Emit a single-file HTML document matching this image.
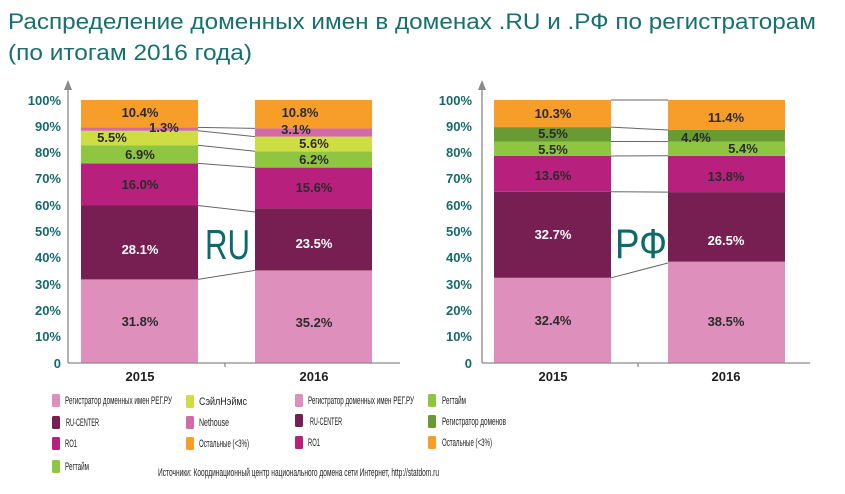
<!DOCTYPE html>
<html><head><meta charset="utf-8"><style>
html,body{margin:0;padding:0;background:#fff;width:845px;height:494px;overflow:hidden}
svg{display:block;font-family:"Liberation Sans","DejaVu Sans",sans-serif}
.ax{font-weight:bold;font-size:13px;fill:#16696b;text-anchor:end}
.v{font-weight:bold;font-size:13px;fill:#2b2b2b;text-anchor:middle}
.w{font-weight:bold;font-size:13px;fill:#fff;text-anchor:middle}
.yr{font-weight:bold;font-size:13px;fill:#1f1f1f;text-anchor:middle}
.lg{font-size:11px;fill:#222}
</style></head><body>
<svg width="845" height="494" viewBox="0 0 845 494">
<text x="8" y="29" font-size="22" fill="#17706f" textLength="808" lengthAdjust="spacingAndGlyphs">Распределение доменных имен в доменах .RU и .РФ по регистраторам</text>
<text x="8" y="60" font-size="22" fill="#17706f" textLength="244" lengthAdjust="spacingAndGlyphs">(по итогам 2016 года)</text>

<g class="ax">
<text x="61" y="368">0</text><text x="61" y="341">10%</text><text x="61" y="315">20%</text><text x="61" y="289">30%</text><text x="61" y="262">40%</text><text x="61" y="236">50%</text><text x="61" y="210">60%</text><text x="61" y="183">70%</text><text x="61" y="157">80%</text><text x="61" y="131">90%</text><text x="61" y="105">100%</text>
</g>
<rect x="81" y="279.4" width="117" height="83.6" fill="#de8fbb"/>
<rect x="81" y="205.5" width="117" height="73.9" fill="#771f53"/>
<rect x="81" y="163.4" width="117" height="42.1" fill="#b8207e"/>
<rect x="81" y="145.2" width="117" height="18.2" fill="#8fc641"/>
<rect x="81" y="130.8" width="117" height="14.4" fill="#cedd43"/>
<rect x="81" y="127.4" width="117" height="3.4" fill="#d36aa6"/>
<rect x="81" y="100" width="117" height="27.4" fill="#f79d2a"/>
<rect x="255" y="270.4" width="117" height="92.6" fill="#de8fbb"/>
<rect x="255" y="208.6" width="117" height="61.8" fill="#771f53"/>
<rect x="255" y="167.6" width="117" height="41" fill="#b8207e"/>
<rect x="255" y="151.3" width="117" height="16.3" fill="#8fc641"/>
<rect x="255" y="136.6" width="117" height="14.7" fill="#cedd43"/>
<rect x="255" y="128.4" width="117" height="8.2" fill="#d36aa6"/>
<rect x="255" y="100" width="117" height="28.4" fill="#f79d2a"/>
<g stroke="#666" stroke-width="1">
<line x1="198" y1="279.4" x2="255" y2="270.4"/><line x1="198" y1="205.5" x2="255" y2="212"/><line x1="198" y1="163.4" x2="255" y2="167.6"/><line x1="198" y1="145.2" x2="255" y2="151.3"/><line x1="198" y1="130.8" x2="255" y2="136.6"/><line x1="198" y1="127.4" x2="255" y2="128.4"/>
</g>
<g stroke="#8a8a8a" stroke-width="1.3" fill="none">
<line x1="68" y1="85" x2="68" y2="363"/><line x1="68" y1="363" x2="400" y2="363"/><line x1="225" y1="363" x2="225" y2="367"/>
</g>
<polygon points="68,80 64,90 72,90" fill="#8a8a8a"/>
<text x="140" y="117" class="v">10.4%</text><text x="164" y="132" class="v">1.3%</text><text x="112" y="142" class="v">5.5%</text><text x="140" y="159" class="v">6.9%</text><text x="140" y="189" class="v">16.0%</text><text x="140" y="254" class="w">28.1%</text><text x="140" y="326" class="v">31.8%</text>
<text x="300" y="117" class="v">10.8%</text><text x="296" y="134" class="v">3.1%</text><text x="314" y="148" class="v">5.6%</text><text x="314" y="164" class="v">6.2%</text><text x="314" y="192" class="v">15.6%</text><text x="314" y="248" class="w">23.5%</text><text x="314" y="327" class="v">35.2%</text>
<text x="205" y="259" font-size="42" fill="#0e6a6a" textLength="45" lengthAdjust="spacingAndGlyphs">RU</text>
<text x="140" y="381" class="yr">2015</text><text x="314" y="381" class="yr">2016</text>

<g class="ax">
<text x="472" y="368">0</text><text x="472" y="341">10%</text><text x="472" y="315">20%</text><text x="472" y="289">30%</text><text x="472" y="262">40%</text><text x="472" y="236">50%</text><text x="472" y="210">60%</text><text x="472" y="183">70%</text><text x="472" y="157">80%</text><text x="472" y="131">90%</text><text x="472" y="105">100%</text>
</g>
<rect x="494" y="277.8" width="117" height="85.2" fill="#de8fbb"/>
<rect x="494" y="191.8" width="117" height="86" fill="#771f53"/>
<rect x="494" y="156" width="117" height="35.8" fill="#b8207e"/>
<rect x="494" y="141.5" width="117" height="14.5" fill="#8fc641"/>
<rect x="494" y="127.1" width="117" height="14.4" fill="#6a9a33"/>
<rect x="494" y="100" width="117" height="27.1" fill="#f79d2a"/>
<rect x="668" y="261.7" width="117" height="101.3" fill="#de8fbb"/>
<rect x="668" y="192.1" width="117" height="69.6" fill="#771f53"/>
<rect x="668" y="155.8" width="117" height="36.3" fill="#b8207e"/>
<rect x="668" y="141.6" width="117" height="14.2" fill="#8fc641"/>
<rect x="668" y="130" width="117" height="11.6" fill="#6a9a33"/>
<rect x="668" y="100" width="117" height="30" fill="#f79d2a"/>
<g stroke="#666" stroke-width="1">
<line x1="611" y1="100" x2="668" y2="100"/><line x1="611" y1="277.8" x2="668" y2="263"/><line x1="611" y1="191.8" x2="668" y2="192.1"/><line x1="611" y1="156" x2="668" y2="155.8"/><line x1="611" y1="141.5" x2="668" y2="141.6"/><line x1="611" y1="127.1" x2="668" y2="130"/>
</g>
<g stroke="#8a8a8a" stroke-width="1.3" fill="none">
<line x1="482" y1="85" x2="482" y2="363"/><line x1="482" y1="363" x2="810" y2="363"/><line x1="638" y1="363" x2="638" y2="367"/>
</g>
<polygon points="482,80 478,90 486,90" fill="#8a8a8a"/>
<text x="553" y="118" class="v">10.3%</text><text x="553" y="138" class="v">5.5%</text><text x="553" y="154" class="v">5.5%</text><text x="553" y="180" class="v">13.6%</text><text x="553" y="239" class="w">32.7%</text><text x="553" y="325" class="v">32.4%</text>
<text x="726" y="122" class="v">11.4%</text><text x="696" y="142" class="v">4.4%</text><text x="743" y="153" class="v">5.4%</text><text x="726" y="181" class="v">13.8%</text><text x="726" y="245" class="w">26.5%</text><text x="726" y="326" class="v">38.5%</text>
<text x="615" y="258" font-size="42" fill="#0e6a6a" textLength="52" lengthAdjust="spacingAndGlyphs">РФ</text>
<text x="553" y="381" class="yr">2015</text><text x="726" y="381" class="yr">2016</text>

<g>
<rect x="52" y="394" width="8" height="13" rx="1.5" fill="#de8fbb"/><text x="65" y="404" class="lg" textLength="107" lengthAdjust="spacingAndGlyphs">Регистратор доменных имен РЕГ.РУ</text>
<rect x="52" y="416" width="8" height="13" rx="1.5" fill="#771f53"/><text x="66" y="426" class="lg" textLength="33" lengthAdjust="spacingAndGlyphs">RU-CENTER</text>
<rect x="52" y="437" width="8" height="13" rx="1.5" fill="#b8207e"/><text x="65" y="447" class="lg" textLength="12" lengthAdjust="spacingAndGlyphs">RO1</text>
<rect x="52" y="460" width="8" height="13" rx="1.5" fill="#8fc641"/><text x="65" y="470" class="lg" textLength="24" lengthAdjust="spacingAndGlyphs">Регтайм</text>
<rect x="186" y="395" width="8" height="13" rx="1.5" fill="#cedd43"/><text x="199" y="405" class="lg" textLength="48" lengthAdjust="spacingAndGlyphs">СэйлНэймс</text>
<rect x="186" y="416" width="8" height="13" rx="1.5" fill="#d36aa6"/><text x="199" y="426" class="lg" textLength="30" lengthAdjust="spacingAndGlyphs">Nethouse</text>
<rect x="186" y="437" width="8" height="13" rx="1.5" fill="#f79d2a"/><text x="199" y="447" class="lg" textLength="50" lengthAdjust="spacingAndGlyphs">Остальные (&lt;3%)</text>
<rect x="295" y="394" width="8" height="13" rx="1.5" fill="#de8fbb"/><text x="308" y="404" class="lg" textLength="106" lengthAdjust="spacingAndGlyphs">Регистратор доменных имен РЕГ.РУ</text>
<rect x="295" y="414" width="8" height="13" rx="1.5" fill="#771f53"/><text x="310" y="425" class="lg" textLength="32" lengthAdjust="spacingAndGlyphs">RU-CENTER</text>
<rect x="295" y="436" width="8" height="13" rx="1.5" fill="#b8207e"/><text x="308" y="446" class="lg" textLength="12" lengthAdjust="spacingAndGlyphs">RO1</text>
<rect x="428" y="394" width="8" height="13" rx="1.5" fill="#8fc641"/><text x="442" y="404" class="lg" textLength="24" lengthAdjust="spacingAndGlyphs">Регтайм</text>
<rect x="428" y="415" width="8" height="13" rx="1.5" fill="#6a9a33"/><text x="442" y="425" class="lg" textLength="64" lengthAdjust="spacingAndGlyphs">Регистратор доменов</text>
<rect x="428" y="436" width="8" height="13" rx="1.5" fill="#f79d2a"/><text x="442" y="446" class="lg" textLength="50" lengthAdjust="spacingAndGlyphs">Остальные (&lt;3%)</text>
<text x="158" y="476" class="lg" textLength="281" lengthAdjust="spacingAndGlyphs">Источники: Координационный центр национального домена сети Интернет, http://statdom.ru</text>
</g>
</svg>
</body></html>
